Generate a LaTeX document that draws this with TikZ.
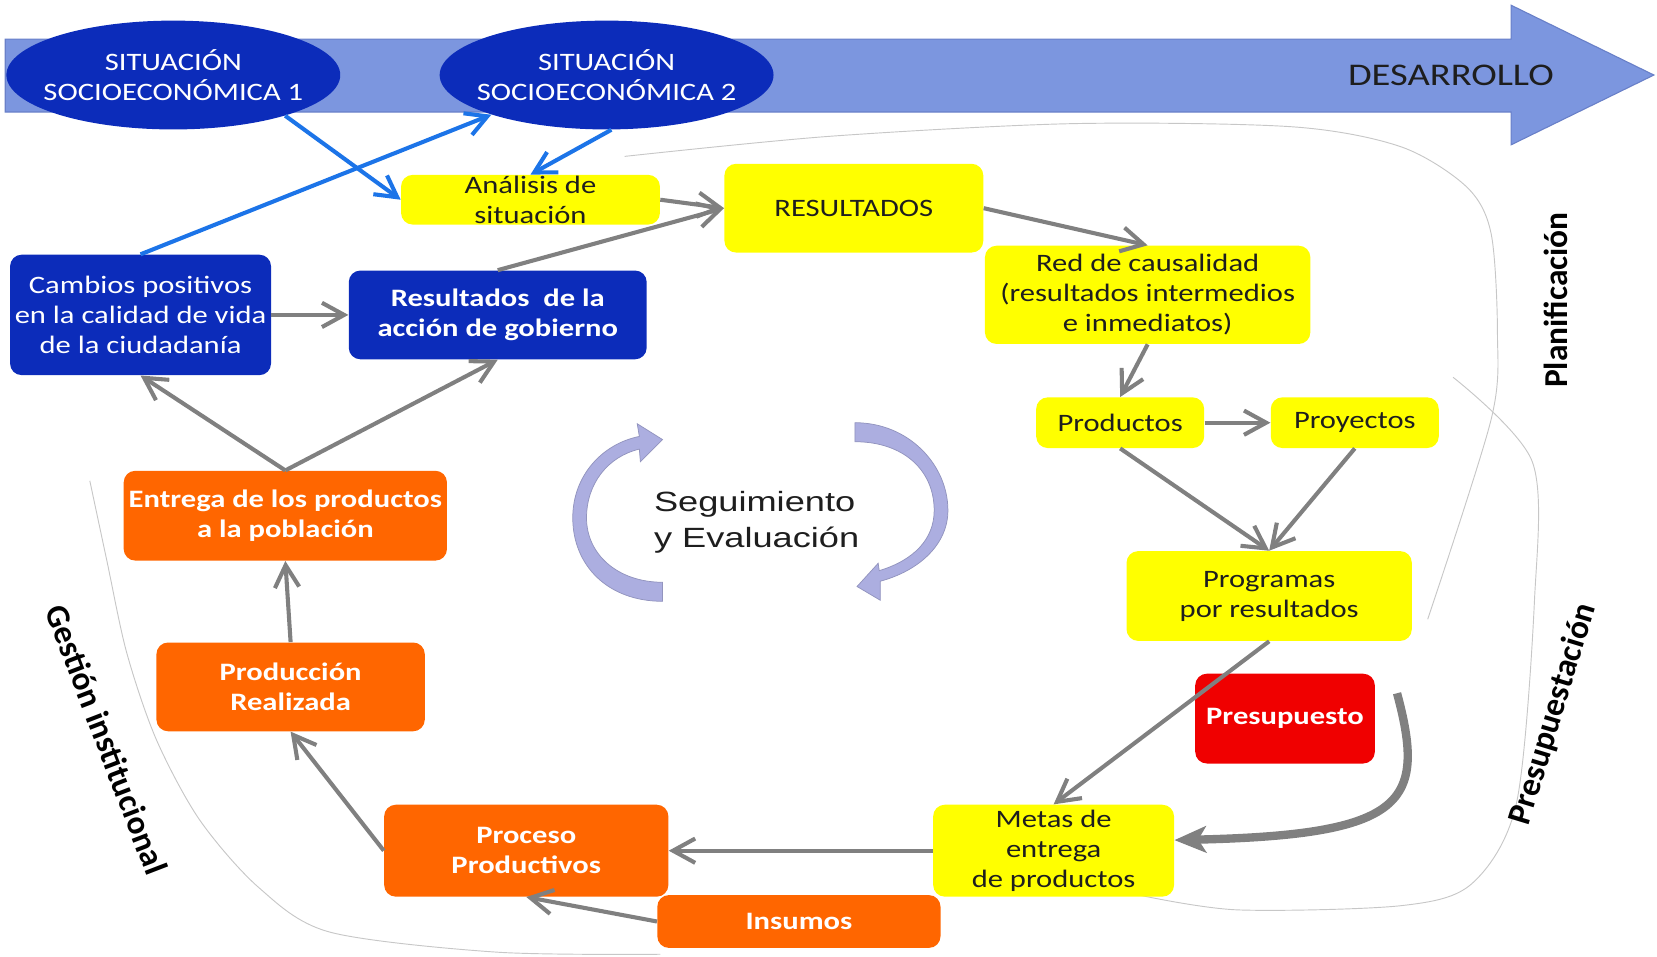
\documentclass[tikz,border=0pt]{standalone}
\usepackage{fontspec}
\setmainfont{Carlito}[FakeStretch=1.22]
\newfontfamily\sidefont{Carlito}
\newfontfamily\seguifont{Liberation Sans}[FakeStretch=1.3]
\usetikzlibrary{arrows.meta,shapes.geometric}

\definecolor{sitblue}{RGB}{12,44,186}
\definecolor{bandblue}{RGB}{124,150,223}
\definecolor{bandedge}{RGB}{105,128,200}
\definecolor{boxyellow}{RGB}{255,255,0}
\definecolor{boxorange}{RGB}{255,102,0}
\definecolor{boxred}{RGB}{240,0,0}
\definecolor{arrowgray}{RGB}{128,128,128}
\definecolor{arrowblue}{RGB}{28,116,232}
\definecolor{lavender}{RGB}{172,174,224}
\definecolor{textdark}{RGB}{30,30,30}

\newcommand{\boxfont}{\fontsize{13.5}{16.2}\selectfont}

\tikzstyle{situ}=[ellipse,fill=sitblue,text=white,font=\boxfont,align=center,inner xsep=-0.3cm,inner ysep=-0.3cm,minimum width=6.32cm,minimum height=2.06cm]
\tikzstyle{ybox}=[rectangle,rounded corners=0.22cm,fill=boxyellow,text=textdark,font=\boxfont,align=center,inner sep=0pt]
\tikzstyle{obox}=[rectangle,rounded corners=0.22cm,fill=boxorange,text=white,font=\boxfont\bfseries,align=center,inner sep=0pt]
\tikzstyle{bbox}=[rectangle,rounded corners=0.22cm,fill=sitblue,text=white,font=\boxfont,align=center,inner sep=0pt]
\tikzstyle{garrow}=[draw=arrowgray,line width=2.2pt,-{Straight Barb[length=0.42cm,width=0.46cm]}]
\tikzstyle{barrow}=[draw=arrowblue,line width=2.2pt,-{Straight Barb[length=0.4cm,width=0.44cm]}]
\tikzstyle{parrow}=[draw=arrowgray,line width=4.5pt,-{Stealth[length=0.6cm,width=0.5cm,inset=0.15cm]}]
\tikzstyle{outline}=[draw=black!22,line width=0.5pt]
\tikzstyle{cycarrow}=[fill=lavender,draw=lavender!85!black,line width=0.4pt]
\tikzstyle{side}=[font=\sidefont\bfseries\fontsize{18}{20}\selectfont,text=black]

\begin{document}
\begin{tikzpicture}[x=0.02cm,y=-0.02cm]
\useasboundingbox (0,0) rectangle (1568,905);

\draw[outline] plot[smooth] coordinates {(591,148) (785,129) (1015,117) (1223,120) (1326,139) (1388,177) (1411,221) (1417,315) (1411,397) (1351,586)};
\draw[outline] plot[smooth] coordinates {(1375,357) (1450,437) (1452,569) (1435,760) (1393,836) (1326,857) (1171,861) (1078,847)};
\draw[outline] plot[smooth] coordinates {(85,455) (101,530) (120,618) (148,700) (189,776) (245,840) (312,882) (470,901) (625,903)};

\filldraw[fill=bandblue,draw=bandedge,line width=0.6pt] (5,37) -- (1430,37) -- (1430,5) -- (1565,71) -- (1430,137) -- (1430,106) -- (5,106) -- cycle;
\node[font=\fontsize{17}{20}\selectfont,text=textdark] at (1373,71) (desarrollo) {DESARROLLO};

\node[situ] at (164,71) (sit1) {SITUACIÓN\\SOCIOECONÓMICA 1};
\node[situ] at (574,71) (sit2) {SITUACIÓN\\SOCIOECONÓMICA 2};

\node[ybox,minimum width=4.9cm,minimum height=0.94cm,inner ysep=-3pt] at (502,189) (analisis) {Análisis de\\situación};
\node[ybox,minimum width=4.9cm,minimum height=1.68cm] at (808,197) (resultados) {RESULTADOS};
\node[ybox,minimum width=6.16cm,minimum height=1.86cm] at (1086,279) (red) {Red de causalidad\\(resultados intermedios\\e inmediatos)};
\node[ybox,minimum width=3.18cm,minimum height=0.96cm] at (1060,400) (productos) {Productos};
\node[ybox,minimum width=3.18cm,minimum height=0.96cm] at (1282,400) (proyectos) {Proyectos};
\node[ybox,minimum width=5.4cm,minimum height=1.7cm] at (1201,564) (programas) {Programas\\por resultados};
\node[rectangle,rounded corners=0.22cm,fill=boxred,text=white,font=\boxfont\bfseries,inner sep=0pt,minimum width=3.4cm,minimum height=1.7cm] at (1216,680) (presupuesto) {Presupuesto};
\node[ybox,minimum width=4.56cm,minimum height=1.74cm] at (997,805) (metas) {Metas de\\entrega\\de productos};
\node[obox,minimum width=5.36cm,minimum height=1.0cm] at (756,872) (insumos) {Insumos};
\node[obox,minimum width=5.38cm,minimum height=1.74cm] at (498,805) (proceso) {Proceso\\Productivos};
\node[obox,minimum width=5.08cm,minimum height=1.68cm] at (275,650) (produccion) {Producción\\Realizada};
\node[obox,minimum width=6.12cm,minimum height=1.7cm] at (270,488) (entrega) {Entrega de los productos\\a la población};
\node[bbox,minimum width=4.94cm,minimum height=2.28cm] at (133,298) (cambios) {Cambios positivos\\en la calidad de vida\\de la ciudadanía};
\node[bbox,font=\boxfont\bfseries,minimum width=5.64cm,minimum height=1.68cm] at (471,298) (accion) {Resultados\ \ de la\\acción de gobierno};

\node[font=\seguifont\fontsize{15}{19.3}\selectfont,text=textdark,align=left] at (716,494) (seguimiento) {Seguimiento\\y Evaluación};

\node[side,rotate=90] at (1472,284) (planif) {Planificación};
\node[side,rotate=73] at (1470,676) (presupuestacion) {Presupuestación};
\node[side,rotate=-69] at (101,700) (gestion) {Gestión institucional};

\draw[barrow] (sit1.-20) -- (analisis.west);
\draw[barrow] (sit2.-85) -- (analisis.north);
\draw[barrow] (cambios.north) -- (sit2.199);

\draw[garrow] (analisis.east) -- (resultados.west);
\draw[garrow] (accion.north) -- (resultados.west);
\draw[garrow] (resultados.east) -- (red.north);
\draw[garrow] (red.south) -- (productos.north);
\draw[garrow] (productos) -- (proyectos);
\draw[garrow] (productos.south) -- (programas.north);
\draw[garrow] (proyectos.south) -- (programas.north);
\draw[garrow] (programas.south) -- (metas.north);
\draw[garrow] (metas) -- (proceso);
\draw[garrow] (insumos.west) -- (proceso.south);
\draw[garrow] (proceso.west) -- (produccion.south);
\draw[garrow] (produccion.north) -- (entrega.south);
\draw[garrow] (entrega.north) -- (cambios.south);
\draw[garrow] (entrega.north) -- (accion.south);
\draw[garrow] (cambios) -- (accion);

\coordinate (pstart) at (1322,656);
\draw[parrow] (pstart) .. controls (1350,760) and (1330,790) .. (metas.5);

\filldraw[cycarrow] (627,569) .. controls (575,569) and (542,535) .. (542,490) .. controls (542,450) and (570,420) .. (605,413) -- (603,401) -- (627,416) -- (606,437) -- (605,425) .. controls (575,432) and (555,458) .. (555,490) .. controls (555,525) and (585,551) .. (627,551) -- cycle;
\filldraw[cycarrow] (809,400) .. controls (860,400) and (897,440) .. (897,483) .. controls (897,515) and (870,540) .. (833,550) -- (833,568) -- (811,555) -- (831,533) -- (832,540) .. controls (865,530) and (884,510) .. (884,483) .. controls (884,445) and (855,418) .. (809,418) -- cycle;

\end{tikzpicture}
\end{document}
